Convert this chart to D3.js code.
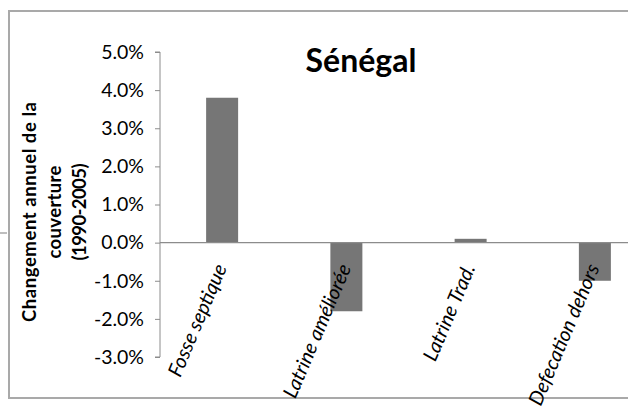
<!DOCTYPE html>
<html>
<head>
<meta charset="utf-8">
<script src="https://cdn.jsdelivr.net/npm/d3@7"></script>
<style>
  html, body { margin: 0; padding: 0; background: #fff; }
  svg { display: block; }
  text { font-family: Lato, "Open Sans", sans-serif; fill: #000; }
</style>
</head>
<body>
<div id="chart"></div>
<script>
// Annual change in sanitation coverage, Senegal 1990-2005
const categories = ["Fosse septique", "Latrine améliorée", "Latrine Trad.", "Defecation dehors"];
const values = [0.038, -0.018, 0.001, -0.010];
const tickValues = [0.05, 0.04, 0.03, 0.02, 0.01, 0, -0.01, -0.02, -0.03];
const titleText = "Sénégal";
const yTitleLines = ["Changement annuel de la", "couverture", "(1990-2005)"];
const yTitleWidths = [220, 93, 97];

const W = 628, H = 409;
const svg = d3.select("#chart").append("svg").attr("width", W).attr("height", H);

// outer chart frame (extends past the right edge)
svg.append("rect")
  .attr("x", 9).attr("y", 11).attr("width", 700).attr("height", 387)
  .attr("fill", "none").attr("stroke", "#a9a9a9").attr("stroke-width", 2);
svg.append("line")
  .attr("x1", 0).attr("x2", 7).attr("y1", 233).attr("y2", 233)
  .attr("stroke", "#a9a9a9").attr("stroke-width", 1.5);

const plotLeft = 160, plotRight = 657, plotTop = 52, plotBottom = 357;

const x = d3.scaleBand().domain(categories).range([plotLeft, plotRight]).padding(0);
const y = d3.scaleLinear().domain([-0.03, 0.05]).range([plotBottom, plotTop]);
const barW = 32;

// bars
svg.append("g").selectAll("rect").data(values).join("rect")
  .attr("x", (d, i) => x(categories[i]) + x.bandwidth() / 2 - barW / 2)
  .attr("width", barW)
  .attr("y", d => y(Math.max(0, d)))
  .attr("height", d => Math.abs(y(d) - y(0)))
  .attr("fill", "#767676");

// y axis
const yAxis = d3.axisLeft(y).tickValues(tickValues).tickSize(5).tickPadding(11)
  .tickFormat(d3.format(".1%"));
const gy = svg.append("g").attr("transform", `translate(${plotLeft},0)`).call(yAxis);
gy.select(".domain").attr("stroke", "#8c8c8c").attr("d", `M-5,${plotTop}H0V${plotBottom}H-5`);
gy.selectAll(".tick line").attr("stroke", "#8c8c8c");
gy.selectAll(".tick text")
  .style("font-family", "Lato, sans-serif").style("font-size", "19.5px").attr("fill", "#000")
  .text(d => d3.format(".1%")(d).replace("−", "-"));

// zero line
svg.append("line")
  .attr("x1", plotLeft).attr("x2", 700).attr("y1", y(0)).attr("y2", y(0))
  .attr("stroke", "#8c8c8c").attr("stroke-width", 1.3);

// category labels, rotated
svg.append("g").selectAll("text").data(categories).join("text")
  .attr("transform", d => `translate(${x(d) + x.bandwidth() / 2 + 5},${y(0) + 25}) rotate(-67)`)
  .attr("text-anchor", "end")
  .style("font-size", "20px").style("font-style", "italic")
  .text(d => d);

// title
svg.append("text")
  .attr("x", 361).attr("y", 72).attr("text-anchor", "middle")
  .style("font-size", "32px").style("font-weight", "bold")
  .text(titleText);

// y axis title
const yt = svg.append("text")
  .attr("transform", "translate(36,212) rotate(-90)")
  .attr("text-anchor", "middle")
  .style("font-size", "18.5px").style("font-weight", "bold");
yt.selectAll("tspan").data(yTitleLines).join("tspan")
  .attr("x", 0).attr("y", (d, i) => i * 25)
  .attr("textLength", (d, i) => yTitleWidths[i])
  .attr("lengthAdjust", "spacing")
  .text(d => d);
</script>
</body>
</html>
